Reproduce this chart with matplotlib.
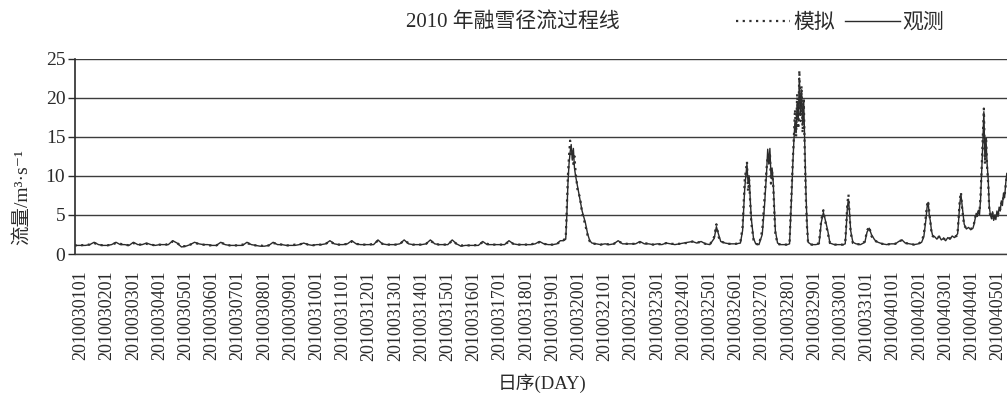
import matplotlib
matplotlib.use('Agg')
import matplotlib.pyplot as plt
import pandas as pd

plt.rcParams['font.family'] = ['Liberation Serif', 'Noto Sans CJK SC', 'DejaVu Sans']
plt.rcParams['axes.unicode_minus'] = True

# hours counted from 2010-03-01 01:00
hours = [
    -6,
    0, 4, 8, 12, 16, 20,
    24, 28, 32, 36, 40, 44,
    48, 52, 56, 60, 64, 68,
    72, 76, 80, 84, 88, 92,
    96, 100, 104, 108, 112, 116,
    120, 124, 128, 132, 136, 140,
    144, 148, 152, 156, 160, 164,
    168, 172, 176, 180, 184, 188,
    192, 196, 200, 204, 208, 212,
    216, 220, 224, 228, 232, 236,
    240, 244, 248, 252, 256, 260,
    264, 268, 272, 276, 280, 284,
    288, 292, 296, 300, 304, 308,
    312, 316, 320, 324, 328, 332,
    336, 340, 344, 348, 352, 356,
    360, 364, 368, 372, 376, 380,
    384, 388, 392, 396, 400, 404,
    408, 412, 416, 420, 424, 428,
    432, 436, 439, 442, 444, 445, 446, 447, 448, 449, 450, 451, 452, 453, 455,
    457, 459, 462, 464, 466, 468, 472, 476,
    480, 484, 488, 492, 496, 500,
    504, 508, 512, 516, 520, 524,
    528, 532, 536, 540, 544, 548,
    552, 556, 560, 564, 568, 572,
    576, 580, 582, 584, 586, 590, 594, 598,
    600, 604, 606, 608, 610, 611, 612, 613, 614, 616, 618, 621,
    624, 626, 628, 629, 630, 631, 632, 633, 634, 635, 636, 638, 641, 644, 647,
    649, 650, 651, 652, 653, 654, 655, 656, 657, 658, 659, 660, 661, 662, 663, 664, 665, 666, 669,
    673, 676, 677, 678, 680, 681, 682, 684, 686, 690, 694,
    698, 700, 701, 702, 703, 704, 705, 707, 710, 714, 718,
    720, 722, 724, 727, 730, 734, 738, 742,
    746, 749, 752, 755, 759, 763, 767,
    770, 772, 774, 775, 776, 777, 778, 779, 780, 782, 784, 786, 788, 790,
    792, 794, 796, 798, 800, 802, 803, 804, 805, 806, 807, 808, 809, 811, 813, 815,
    817, 818, 819, 820, 821, 822, 823, 824, 825, 826, 827, 828, 829, 830, 831, 832, 833, 834, 835, 836, 837, 838, 839,
    840, 841, 842, 843, 844, 845, 846, 847, 848,
]

observed = [
    1.1,
    1.1, 1.1, 1.2, 1.5, 1.2, 1.1,
    1.1, 1.2, 1.5, 1.2, 1.2, 1.1,
    1.5, 1.2, 1.2, 1.4, 1.2, 1.1,
    1.2, 1.2, 1.2, 1.7, 1.4, 0.9,
    1.0, 1.2, 1.5, 1.3, 1.2, 1.2,
    1.1, 1.1, 1.5, 1.2, 1.1, 1.1,
    1.1, 1.1, 1.5, 1.2, 1.1, 1.0,
    1.0, 1.1, 1.5, 1.2, 1.2, 1.1,
    1.1, 1.1, 1.2, 1.4, 1.2, 1.1,
    1.2, 1.2, 1.3, 1.7, 1.3, 1.2,
    1.2, 1.3, 1.7, 1.3, 1.2, 1.2,
    1.2, 1.2, 1.8, 1.3, 1.2, 1.2,
    1.2, 1.3, 1.8, 1.3, 1.2, 1.2,
    1.2, 1.3, 1.8, 1.3, 1.2, 1.2,
    1.2, 1.8, 1.3, 1.0, 1.1, 1.1,
    1.1, 1.1, 1.6, 1.2, 1.2, 1.2,
    1.2, 1.2, 1.7, 1.3, 1.2, 1.2,
    1.2, 1.2, 1.3, 1.6, 1.3, 1.2,
    1.2, 1.3, 1.7, 1.7, 1.9, 5.0, 9.0, 11.5, 13.0, 14.0, 12.0, 13.5, 11.0, 10.0, 8.5,
    7.0, 5.5, 4.0, 2.6, 1.7, 1.4, 1.3, 1.2,
    1.3, 1.2, 1.3, 1.7, 1.3, 1.3,
    1.3, 1.3, 1.6, 1.3, 1.3, 1.2,
    1.3, 1.2, 1.4, 1.3, 1.2, 1.3,
    1.4, 1.5, 1.6, 1.4, 1.6, 1.3,
    1.2, 2.0, 3.5, 2.5, 1.6, 1.4, 1.3, 1.3,
    1.3, 1.4, 3.0, 8.5, 11.5, 9.0, 10.0, 7.0, 4.5, 2.0, 1.3, 1.2,
    2.5, 6.0, 10.5, 13.4, 11.5, 13.5, 10.0, 11.0, 9.3, 6.0, 3.0, 1.4, 1.2, 1.2, 1.2,
    1.3, 4.5, 7.8, 11.5, 14.5, 17.0, 15.5, 19.5, 17.0, 22.5, 18.0, 21.0, 16.5, 19.5, 13.5, 8.0, 4.0, 1.5, 1.2,
    1.2, 1.3, 2.5, 4.0, 5.3, 4.8, 4.2, 3.0, 1.4, 1.2, 1.2,
    1.2, 1.3, 3.5, 6.0, 7.0, 5.2, 3.0, 1.5, 1.3, 1.2, 1.5,
    2.8, 3.3, 2.5, 1.8, 1.5, 1.3, 1.2, 1.3,
    1.3, 1.6, 1.8, 1.4, 1.3, 1.2, 1.3,
    1.5, 2.2, 4.5, 6.0, 6.6, 5.0, 4.2, 3.0, 2.4, 2.2, 1.9, 2.3, 1.8, 2.0,
    1.7, 2.1, 1.9, 2.3, 2.1, 2.4, 2.6, 4.5, 6.5, 7.6, 6.3, 5.0, 3.8, 3.2, 3.4, 3.1,
    3.3, 3.8, 4.5, 5.2, 4.8, 5.6, 5.0, 7.0, 10.5, 14.0, 18.2, 12.0, 14.5, 11.5, 9.5, 6.0, 5.0, 4.5, 5.4, 4.3, 5.0, 4.4, 5.5,
    4.8, 6.0, 5.5, 6.8, 6.2, 7.8, 7.2, 9.0, 10.3,
]

simulated = [
    1.1,
    1.1, 1.2, 1.2, 1.4, 1.2, 1.1,
    1.1, 1.2, 1.4, 1.3, 1.2, 1.1,
    1.4, 1.2, 1.2, 1.3, 1.2, 1.1,
    1.2, 1.1, 1.3, 1.6, 1.4, 1.0,
    1.0, 1.2, 1.4, 1.3, 1.2, 1.1,
    1.1, 1.1, 1.4, 1.3, 1.1, 1.1,
    1.1, 1.2, 1.4, 1.2, 1.1, 1.1,
    1.0, 1.1, 1.4, 1.3, 1.2, 1.1,
    1.1, 1.2, 1.2, 1.4, 1.2, 1.1,
    1.2, 1.2, 1.3, 1.6, 1.3, 1.2,
    1.2, 1.3, 1.6, 1.3, 1.2, 1.2,
    1.2, 1.3, 1.7, 1.3, 1.2, 1.2,
    1.2, 1.3, 1.7, 1.4, 1.2, 1.2,
    1.2, 1.3, 1.7, 1.3, 1.2, 1.2,
    1.2, 1.7, 1.3, 1.1, 1.1, 1.1,
    1.1, 1.2, 1.5, 1.3, 1.2, 1.2,
    1.2, 1.2, 1.6, 1.3, 1.2, 1.2,
    1.2, 1.2, 1.4, 1.5, 1.3, 1.2,
    1.2, 1.3, 1.6, 1.8, 2.0, 6.0, 10.0, 12.5, 14.5, 12.5, 13.5, 11.5, 12.5, 10.5, 8.0,
    7.3, 5.2, 3.7, 2.4, 1.6, 1.3, 1.3, 1.2,
    1.3, 1.2, 1.3, 1.6, 1.4, 1.3,
    1.3, 1.3, 1.5, 1.4, 1.3, 1.2,
    1.3, 1.2, 1.4, 1.3, 1.3, 1.3,
    1.4, 1.4, 1.6, 1.5, 1.5, 1.3,
    1.2, 2.2, 3.8, 2.2, 1.6, 1.4, 1.3, 1.3,
    1.3, 1.5, 3.5, 9.5, 11.8, 8.0, 9.5, 6.5, 4.0, 1.8, 1.3, 1.2,
    3.0, 7.0, 11.0, 12.5, 12.0, 13.0, 9.0, 10.5, 9.0, 5.5, 2.6, 1.3, 1.2, 1.2, 1.2,
    1.4, 5.0, 8.5, 12.0, 15.0, 18.5, 15.0, 20.5, 16.0, 23.5, 17.0, 21.5, 15.5, 20.0, 12.5, 7.0, 3.5, 1.4, 1.2,
    1.2, 1.4, 2.8, 4.3, 5.6, 4.6, 4.0, 2.7, 1.4, 1.2, 1.2,
    1.2, 1.4, 4.0, 6.5, 7.6, 5.0, 2.7, 1.4, 1.3, 1.2, 1.6,
    3.0, 3.5, 2.3, 1.7, 1.5, 1.3, 1.2, 1.3,
    1.3, 1.7, 1.7, 1.4, 1.3, 1.2, 1.3,
    1.6, 2.5, 5.0, 6.3, 6.8, 5.3, 4.0, 2.8, 2.3, 2.1, 2.0, 2.2, 1.9, 2.0,
    1.8, 2.0, 2.0, 2.2, 2.2, 2.3, 2.8, 5.0, 7.0, 7.9, 6.0, 4.7, 3.6, 3.3, 3.3, 3.2,
    3.4, 3.9, 4.7, 5.0, 4.9, 5.4, 5.3, 7.5, 11.0, 15.0, 18.6, 11.5, 15.0, 11.0, 9.0, 5.6, 4.8, 4.7, 5.2, 4.5, 4.8, 4.6, 5.3,
    5.0, 5.8, 5.7, 6.5, 6.4, 7.5, 7.5, 8.7, 10.0,
]

assert len(hours) == len(observed) == len(simulated)

day_labels = list(pd.date_range('2010-03-01 01:00', periods=36, freq='D').strftime('%Y%m%d%H'))
y_ticks = [0, 5, 10, 15, 20, 25]

ink = '#2a2a2a'

fig = plt.figure(figsize=(10.07, 3.97), dpi=100)
ax = fig.add_axes([0.0745, 0.3602, 0.9255, 0.4924])

obs_line, = ax.plot(hours, observed, '-', color=ink, lw=1.0, label='观测', zorder=3)
sim_line, = ax.plot(hours, simulated, linestyle=(0, (1, 2)), color='#303030', lw=1.6,
                    label='模拟', zorder=4)

ax.set_xlim(-5.5, 848.2)
ax.set_ylim(0, 25)
ax.set_yticks(y_ticks)
ax.set_xticks([24 * i for i in range(len(day_labels))])
ax.set_xticklabels(day_labels, rotation=90, fontsize=13, color=ink)
ax.tick_params(axis='x', length=0, pad=12)
ax.tick_params(axis='y', length=5, width=1, labelsize=14, labelcolor=ink, color=ink, pad=2)

ax.yaxis.grid(True, color='#3c3c3c', lw=1.0)
ax.set_axisbelow(True)
for side in ['top', 'right']:
    ax.spines[side].set_visible(False)
ax.spines['left'].set_color(ink)
ax.spines['left'].set_linewidth(1.2)
ax.spines['bottom'].set_color('#3c3c3c')
ax.spines['bottom'].set_linewidth(1.0)

fig.text(513 / 1007, 1 - 23 / 397, '2010 年融雪径流过程线', ha='center', va='center',
         fontsize=15, color=ink)
fig.text(22 / 1007, 1 - 197 / 397, '流量/m³·s⁻¹', rotation=90, ha='center',
         va='center', fontsize=14, color=ink)
fig.text(542 / 1007, 1 - 383 / 397, '日序(DAY)', ha='center', va='center',
         fontsize=13.5, color=ink)

fig.legend(handles=[sim_line, obs_line], loc='center left',
           bbox_to_anchor=(736 / 1007, 1 - 23 / 397), ncol=2, frameon=False,
           fontsize=15, handlelength=2.6, handletextpad=0.15, columnspacing=0.5,
           borderpad=0, borderaxespad=0, labelcolor=ink)

fig.savefig('out.png', dpi=100)
